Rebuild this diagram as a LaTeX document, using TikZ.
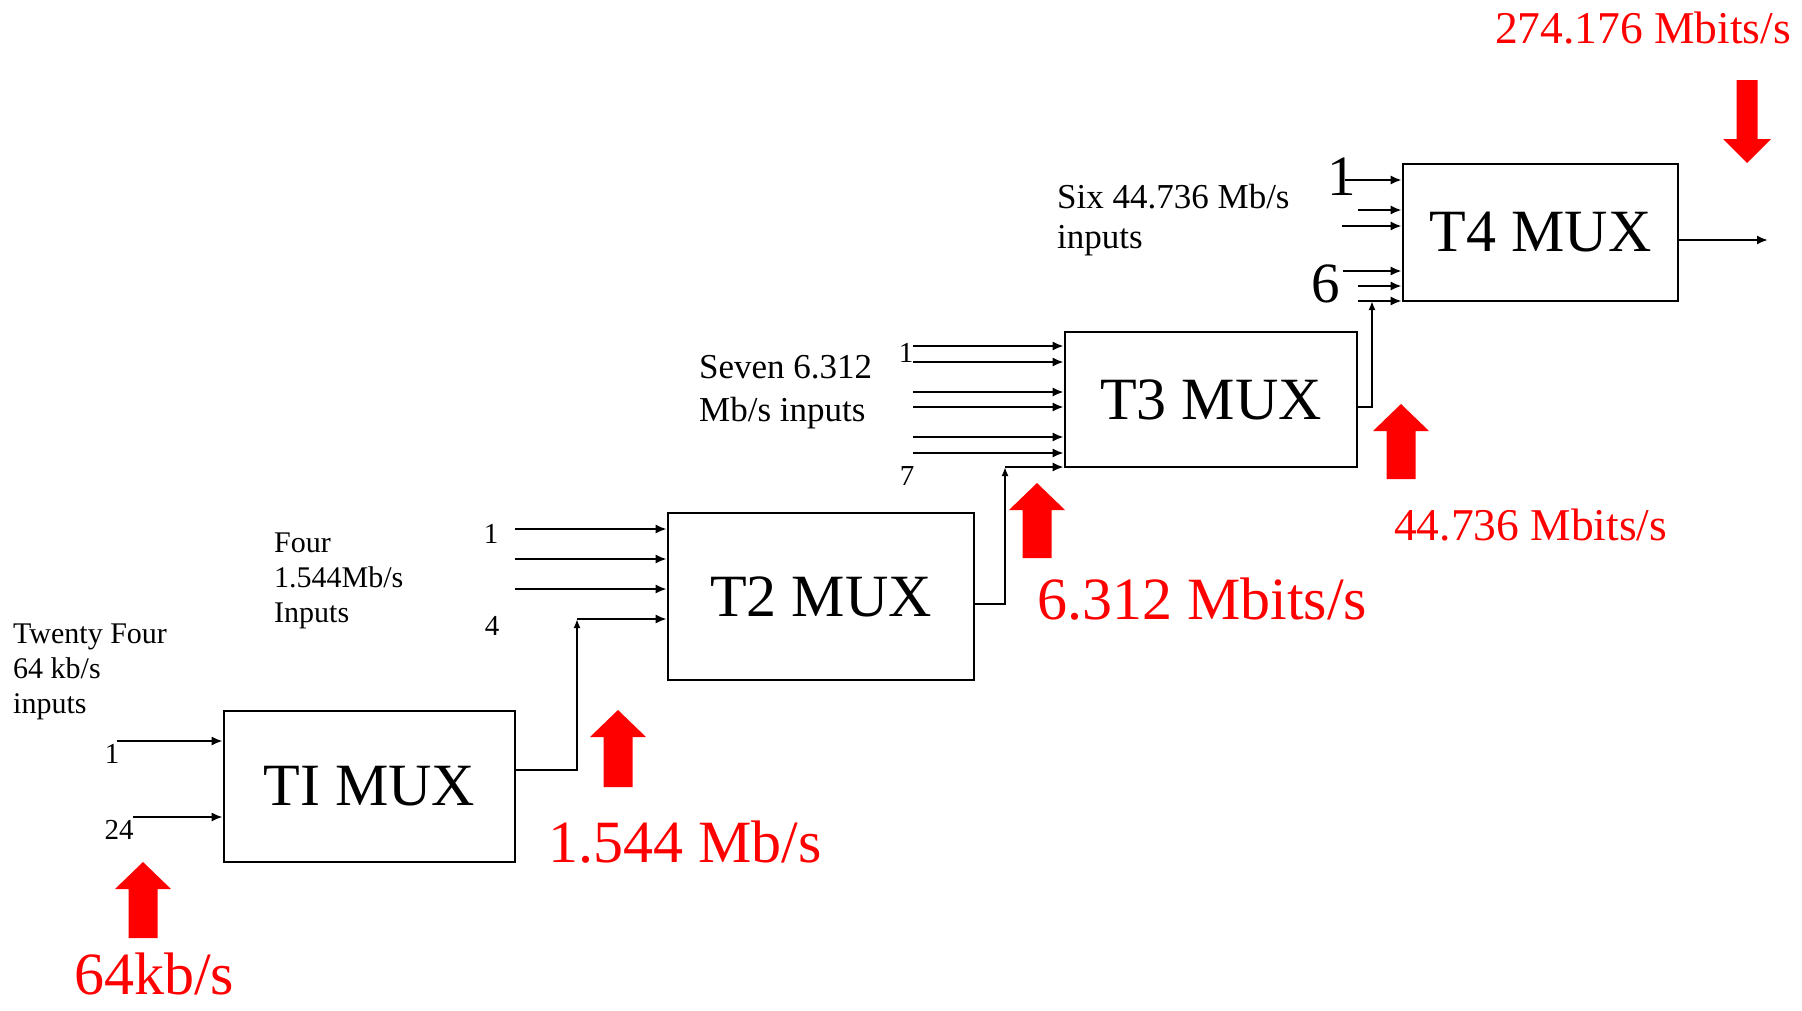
\documentclass[tikz,border=0pt]{standalone}
\usepackage{fontspec}
\setmainfont{Liberation Serif}
\usetikzlibrary{arrows.meta}
% #1 x, #2 tip y, #3 dir (1 = up, -1 = down), #4 head half width, #5 shaft half width, #6 head length, #7 total length
\newcommand\RateBlockArrow[7]{%
  \fill[red] (#1,#2) -- ++({#4},{#3*#6}) -- ++({#5-#4},0) -- ++(0,{#3*(#7-#6)})
    -- ++({-2*#5},0) -- ++(0,{#3*(#6-#7)}) -- ++({#5-#4},0) -- cycle;}
\begin{document}
\begin{tikzpicture}[x=1pt,y=-1pt,
  mux/.style={draw, line width=2.6pt, inner sep=0pt, font=\fontsize{60}{70}\selectfont},
  inline/.style={line width=2pt, -{Latex[length=11pt,width=9pt]}},
  joinline/.style={line width=2pt, -{Latex[length=9pt,width=7pt]}},
  lbl/.style={anchor=base west, inner sep=0pt, font=\fontsize{30}{34}\selectfont},
  midlbl/.style={anchor=base west, inner sep=0pt, font=\fontsize{35}{40}\selectfont},
  num/.style={anchor=base, inner sep=0pt, font=\fontsize{29}{32}\selectfont},
  bignum/.style={anchor=base, inner sep=0pt, font=\fontsize{57}{64}\selectfont},
  rate/.style={anchor=base west, inner sep=0pt, text=red, font=\fontsize{60}{70}\selectfont},
  smallrate/.style={anchor=base west, inner sep=0pt, text=red, font=\fontsize{45.5}{52}\selectfont}]
\useasboundingbox (0,0) rectangle (1802,1010);
\fill[white] (0,0) rectangle (1802,1010);

% boxes
\node[mux, minimum width=291pt, minimum height=151pt] (t1) at (369.5,786.5) {TI MUX};
\node[mux, minimum width=306pt, minimum height=167pt] (t2) at (821,596.5) {T2 MUX};
\node[mux, minimum width=292pt, minimum height=135pt] (t3) at (1211,399.5) {T3 MUX};
\node[mux, minimum width=275pt, minimum height=137pt] (t4) at (1540.5,232.5) {T4 MUX};

% T1 inputs
\coordinate (a1) at (117,741);
\coordinate (a24) at (133,817);
\draw[inline] (a1) -- (a1 -| t1.west);
\draw[inline] (a24) -- (a24 -| t1.west);
\node[num] (n1a) at (112,763) {1};
\node[num] (n24) at (119,839) {24};
\node[lbl] (tf1) at (13,643) {Twenty Four};
\node[lbl] (tf2) at (13,678) {64 kb/s};
\node[lbl] (tf3) at (13,713) {inputs};

% T2 inputs
\coordinate (b1) at (515,529);
\coordinate (b2) at (515,559);
\coordinate (b3) at (515,589);
\coordinate (j1) at (577,619);
\coordinate (t1out) at (515,770);
\draw[inline] (b1) -- (b1 -| t2.west);
\draw[inline] (b2) -- (b2 -| t2.west);
\draw[inline] (b3) -- (b3 -| t2.west);
\draw[inline] (j1) -- (j1 -| t2.west);
\draw[joinline] (t1out) -| (j1);
\node[num] (n1b) at (491,543) {1};
\node[num] (n4b) at (492,635) {4};
\node[lbl] (fo1) at (274,552) {Four};
\node[lbl] (fo2) at (274,587) {1.544Mb/s};
\node[lbl] (fo3) at (274,622) {Inputs};

% T3 inputs
\coordinate (c1) at (913,346);
\coordinate (c2) at (913,362);
\coordinate (c3) at (913,392);
\coordinate (c4) at (913,407);
\coordinate (c5) at (913,437);
\coordinate (c6) at (913,453);
\coordinate (j2) at (1005,467);
\coordinate (t2out) at (974,604);
\foreach \c in {c1,c2,c3,c4,c5,c6} \draw[inline] (\c) -- (\c -| t3.west);
\draw[inline] (j2) -- (j2 -| t3.west);
\draw[joinline] (t2out) -| (j2);
\node[num] (n1c) at (906,362) {1};
\node[num] (n7c) at (907,485) {7};
\node[midlbl] (se1) at (699,378) {Seven 6.312};
\node[midlbl] (se2) at (699,421) {Mb/s inputs};

% T4 inputs
\coordinate (d1) at (1345,180);
\coordinate (d2) at (1358,210);
\coordinate (d3) at (1342,226);
\coordinate (d4) at (1343,271);
\coordinate (d5) at (1358,286);
\coordinate (d6) at (1358,301);
\coordinate (j3) at (1372,301);
\coordinate (t3out) at (1357,407);
\foreach \c in {d1,d2,d3,d4,d5,d6} \draw[inline] (\c) -- (\c -| t4.west);
\draw[joinline] (t3out) -| (j3);
\node[bignum] (n1d) at (1342,195) {1};
\node[bignum] (n6d) at (1326,302) {6};
\node[midlbl] (si1) at (1057,208) {Six 44.736 Mb/s};
\node[midlbl] (si2) at (1057,248) {inputs};

% T4 output
\coordinate (t4end) at (1768,240);
\draw[inline] (t4end -| t4.east) -- (t4end);

% red rate arrows
\RateBlockArrow{143}{862}{1}{28}{14.5}{27}{76}
\RateBlockArrow{618}{710}{1}{28}{14.5}{27}{77}
\RateBlockArrow{1037}{483}{1}{28}{14.5}{27}{75}
\RateBlockArrow{1401}{404}{1}{28}{14.5}{27}{75}
\RateBlockArrow{1747}{163}{-1}{24}{10.5}{24}{83}

% red rate labels
\node[rate] (r1) at (74,994) {64kb/s};
\node[rate] (r2) at (548,862) {1.544 Mb/s};
\node[rate] (r3) at (1037,619) {6.312 Mbits/s};
\node[smallrate] (r4) at (1394,540) {44.736 Mbits/s};
\node[smallrate] (r5) at (1495,43) {274.176 Mbits/s};
\end{tikzpicture}
\end{document}
